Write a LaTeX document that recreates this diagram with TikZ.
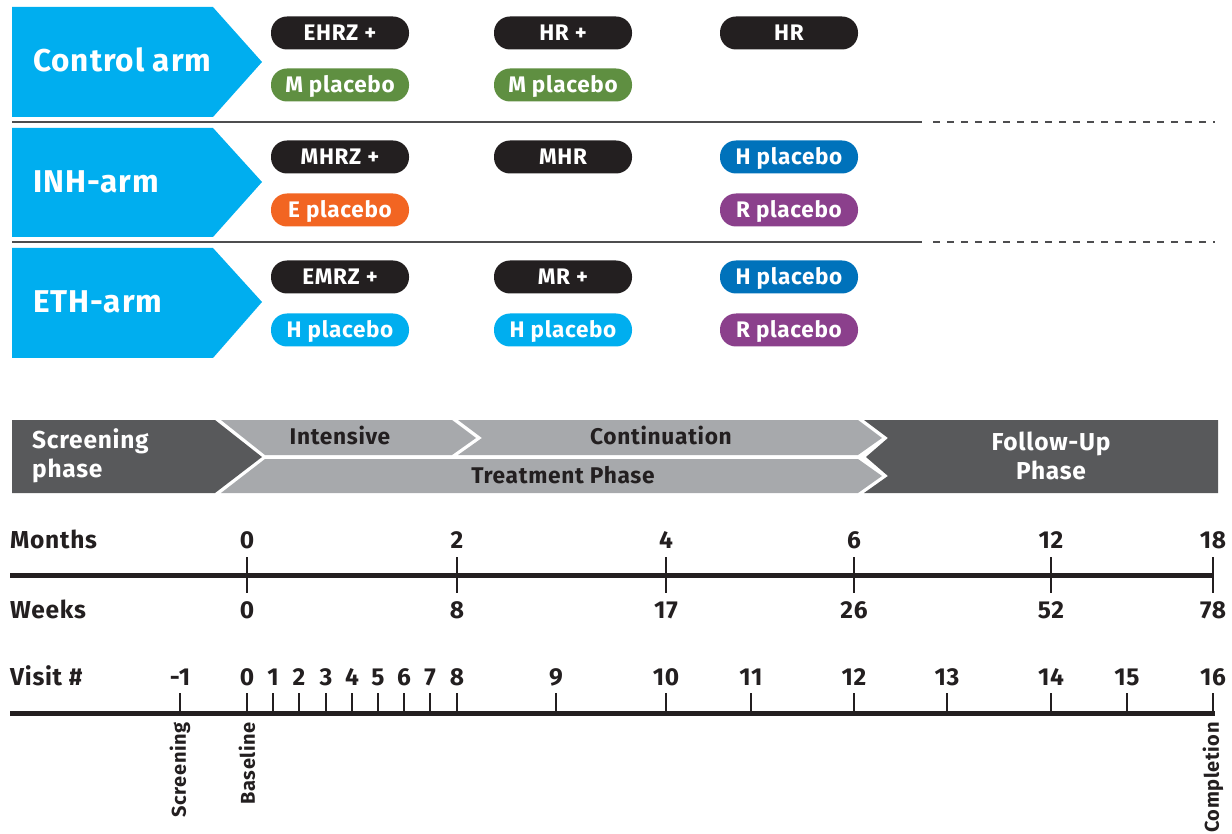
\documentclass[tikz,border=0pt]{standalone}
\usepackage{fontspec}
\setmainfont{Fira Sans}[LetterSpace=3]
\definecolor{armblue}{HTML}{00AEEF}
\definecolor{pillblack}{HTML}{231F20}
\definecolor{pillgreen}{HTML}{5F8F41}
\definecolor{pillorange}{HTML}{F26522}
\definecolor{pilldblue}{HTML}{0072BB}
\definecolor{pillpurple}{HTML}{8B408C}
\definecolor{phasedark}{HTML}{58595B}
\definecolor{phasegray}{HTML}{A7A9AC}
\definecolor{sepline}{HTML}{4D4D4F}
\definecolor{ink}{HTML}{231F20}
\begin{document}
\begin{tikzpicture}[x=1pt,y=-1pt,
  pill/.style={rectangle, rounded corners=16pt, minimum width=138pt, minimum height=33pt, inner sep=0pt, text=white, text height=15.5pt, text depth=0pt, font=\bfseries\fontsize{22.5}{22.5}\selectfont},
  armshape/.style={fill=armblue, draw=none},
  armtext/.style={anchor=west, text=white, font=\bfseries\fontsize{31.5}{31.5}\selectfont, inner sep=0pt, text height=21.7pt, text depth=0pt},
  septhick/.style={draw=sepline, line width=1.8pt},
  phasewhite/.style={text=white, font=\bfseries\fontsize{24.5}{29}\selectfont, inner sep=0pt},
  phaseink/.style={text=ink, font=\bfseries\fontsize{22.7}{22.7}\selectfont, inner sep=0pt, text height=15.6pt, text depth=0pt},
  axislabel/.style={anchor=west, text=ink, font=\bfseries\fontsize{24.5}{24.5}\selectfont, inner sep=0pt, text height=16.9pt, text depth=0pt},
  num/.style={text=ink, font=\bfseries\fontsize{24.5}{24.5}\selectfont, inner sep=0pt, text height=16.9pt, text depth=0pt},
  axisline/.style={draw=ink, line width=5pt},
  tickline/.style={draw=ink, line width=1.4pt},
  vlabel/.style={rotate=90, anchor=east, text=ink, font=\bfseries\fontsize{20}{20}\selectfont, inner sep=0pt}
]
\useasboundingbox (0,0) rectangle (1232,834);

% ---------- arms ----------
\path[armshape] (12,7) -- (213,7) -- (262,62) -- (213,117) -- (12,117) -- cycle;
\node[armtext] (ctrl) at (33,61) {Control arm};
\path[armshape] (12,128) -- (213,128) -- (262,182) -- (213,237) -- (12,237) -- cycle;
\node[armtext] (inh) at (33,182) {INH-arm};
\path[armshape] (12,248) -- (213,248) -- (262,302) -- (213,358) -- (12,358) -- cycle;
\node[armtext] (eth) at (33,302) {ETH-arm};

% separators
\draw[septhick] (12,122) -- (922,122);
\draw[septhick, dash pattern=on 7pt off 7pt] (933,122) -- (1215,122);
\draw[septhick] (12,242) -- (922,242);
\draw[septhick, dash pattern=on 7pt off 7pt] (933,242) -- (1215,242);

% pills
\node[pill, fill=pillblack] (c1a) at (340,33) {EHRZ +};
\node[pill, fill=pillgreen] (c1b) at (340,85) {M placebo};
\node[pill, fill=pillblack] (c2a) at (563,33) {HR +};
\node[pill, fill=pillgreen] (c2b) at (563,85) {M placebo};
\node[pill, fill=pillblack] (c3a) at (789,33) {HR};

\node[pill, fill=pillblack] (i1a) at (340,157) {MHRZ +};
\node[pill, fill=pillorange] (i1b) at (340,210) {E placebo};
\node[pill, fill=pillblack] (i2a) at (563,157) {MHR};
\node[pill, fill=pilldblue] (i3a) at (789,157) {H placebo};
\node[pill, fill=pillpurple] (i3b) at (789,210) {R placebo};

\node[pill, fill=pillblack] (e1a) at (340,277) {EMRZ +};
\node[pill, fill=armblue] (e1b) at (340,330) {H placebo};
\node[pill, fill=pillblack] (e2a) at (563,277) {MR +};
\node[pill, fill=armblue] (e2b) at (563,330) {H placebo};
\node[pill, fill=pilldblue] (e3a) at (789,277) {H placebo};
\node[pill, fill=pillpurple] (e3b) at (789,330) {R placebo};

% ---------- phase bar ----------
\fill[phasedark] (12,420) -- (215,420) -- (262,457) -- (215,493) -- (12,493) -- cycle;
\fill[phasegray] (221,420) -- (452,420) -- (476,438) -- (452,455) -- (265,455) -- cycle;
\fill[phasegray] (458,420) -- (858,420) -- (882,438) -- (858,455) -- (458,455) -- (482,438) -- cycle;
\fill[phasegray] (265,459) -- (858,459) -- (882,476) -- (858,493) -- (221,493) -- cycle;
\fill[phasedark] (864,420) -- (1218,420) -- (1218,493) -- (864,493) -- (888,476) -- (866,457) -- (888,438) -- cycle;

\node[phasewhite, anchor=west, align=left] (scr) at (32,456) {Screening\\phase};
\node[phaseink] (int) at (340,437) {Intensive};
\node[phaseink] (cont) at (661,437) {Continuation};
\node[phaseink] (treat) at (563,476) {Treatment Phase};
\node[phasewhite, align=center] (fu) at (1051,456) {Follow-Up\\Phase};

% ---------- months / weeks ----------
\node[axislabel] (lmonths) at (10,540) {Months};
\node[axislabel] (lweeks) at (10,610) {Weeks};
\draw[axisline] (10,575) -- (1213,575);
\foreach \x/\m/\w [count=\i] in {247/0/0, 457/2/8, 666/4/17, 854/6/26, 1051/12/52, 1213/18/78} {
  \draw[tickline] (\x,557) -- (\x,593);
  \node[num] (m\i) at (\x,540) {\m};
  \node[num] (w\i) at (\x,610) {\w};
}

% ---------- visits ----------
\node[axislabel] (lvisit) at (10,677) {Visit \#};
\draw[axisline] (10,713) -- (1215,713);
\foreach \x/\v [count=\i] in {180/-1, 247/0, 273/1, 299/2, 326/3, 352/4, 378/5, 404/6, 430/7, 457/8, 556/9, 666/10, 751/11, 854/12, 947/13, 1051/14, 1127/15, 1213/16} {
  \draw[tickline] (\x,693) -- (\x,713);
  \node[num] (v\i) at (\x,677) {\v};
}
\node[vlabel] (lscr) at (180,722) {Screening};
\node[vlabel] (lbase) at (247,722) {Baseline};
\node[vlabel] (lcomp) at (1213,722) {Completion};
\end{tikzpicture}
\end{document}
